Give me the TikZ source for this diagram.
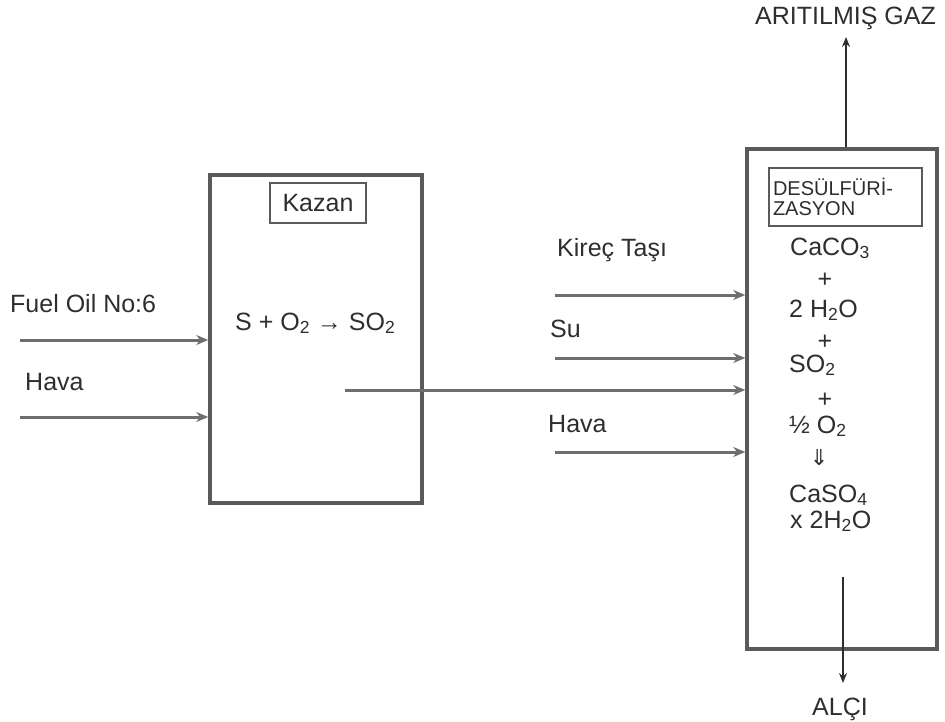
\documentclass[tikz,border=0pt]{standalone}
\usepackage{fontspec}
\setmainfont{Liberation Sans}
\newfontfamily\symfont{DejaVu Sans}
\usetikzlibrary{arrows.meta,positioning,calc}
\definecolor{Ink}{HTML}{2E2E2E}
\definecolor{Frame}{HTML}{5A5A5A}
\definecolor{Pipe}{HTML}{6E6E6E}
\tikzset{
  unitbox/.style={draw=Frame,line width=3.5pt,inner sep=0pt},
  tagbox/.style={draw=Frame,line width=1.5pt,inner sep=0pt},
  txt/.style={inner sep=0pt,anchor=base west,text=Ink,font=\fontsize{25}{30}\selectfont},
  flow/.style={-{Stealth[length=12pt,width=10pt]},Pipe,line width=3pt},
  thin flow/.style={->,Ink,line width=1.4pt},
}

\begin{document}
\begin{tikzpicture}[>={Stealth[length=10pt,width=8pt]},x=1pt,y=-1pt]
    \useasboundingbox (0,0) rectangle (945,722);
    % kazan
    \node[unitbox,minimum width=212pt,minimum height=328pt] (kazan) at (316,339) {};
    \node[tagbox,minimum width=96pt,minimum height=40pt,text=Ink,font=\fontsize{25}{30}\selectfont] (kazanlbl) at (318,203) {Kazan};
    \node[txt] (yanma) at (235,330) {S + O\textsubscript{2} → SO\textsubscript{2}};
    \node[txt] (fuel) at (10,312) {Fuel Oil No:6};
    \node[txt] (hava1) at (25,390) {Hava};
    \coordinate (fuelin) at (20,340);
    \coordinate (havain) at (20,417);
    \draw[flow] (fuelin) -- (fuelin -| kazan.west);
    \draw[flow] (havain) -- (havain -| kazan.west);
    % desulfurizasyon
    \node[unitbox,minimum width=190pt,minimum height=500pt] (desulf) at (842,399) {};
    \node[tagbox,minimum width=153pt,minimum height=58pt,text width=145pt,align=left,text=Ink,font=\fontsize{20}{20}\selectfont] (desulflbl) at (845.5,197) {DESÜLFÜRİ-\\ZASYON};
    \node[txt] (k1) at (790,255) {CaCO\textsubscript{3}};
    \node[txt,anchor=base] (p1) at (825,287) {+};
    \node[txt] (k2) at (789,317) {2 H\textsubscript{2}O};
    \node[txt,anchor=base] (p2) at (825,349) {+};
    \node[txt] (k3) at (789,372) {SO\textsubscript{2}};
    \node[txt,anchor=base] (p3) at (825,407) {+};
    \node[txt] (k4) at (789,433) {½ O\textsubscript{2}};
    \node[txt,anchor=center,font=\symfont\fontsize{22}{26}\selectfont] (ok) at (819,458) {⇓};
    \node[txt] (k5) at (789,502) {CaSO\textsubscript{4}};
    \node[txt] (k6) at (790,528) {x 2H\textsubscript{2}O};
    % girisler
    \node[txt] (kirec) at (557,256) {Kireç Taşı};
    \node[txt] (su) at (550,337) {Su};
    \node[txt] (hava2) at (548,432) {Hava};
    \coordinate (kirecin) at (555,295);
    \coordinate (suin) at (555,358);
    \coordinate (gazin) at (345,390);
    \coordinate (hava2in) at (555,452);
    \draw[flow] (kirecin) -- (kirecin -| desulf.west);
    \draw[flow] (suin) -- (suin -| desulf.west);
    \draw[flow] (gazin) -- (gazin -| desulf.west);
    \draw[flow] (hava2in) -- (hava2in -| desulf.west);
    % cikislar
    \node[txt] (gaz) at (755,25) {ARITILMIŞ GAZ};
    \node[txt] (alci) at (812,715) {ALÇI};
    \coordinate (gastop) at (846,37);
    \coordinate (alcitop) at (843,577);
    \coordinate (alcibot) at (843,683);
    \draw[thin flow] (gastop |- desulf.north) -- (gastop);
    \draw[thin flow] (alcitop) -- (alcibot);
  \end{tikzpicture}
\end{document}
